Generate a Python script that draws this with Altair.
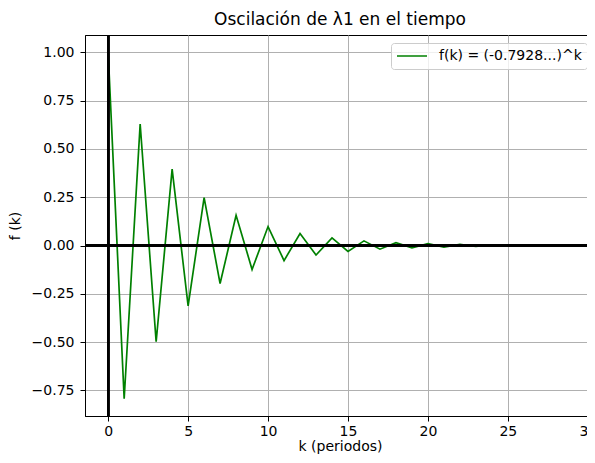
import altair as alt
import pandas as pd

k_values = [0, 1, 2, 3, 4, 5, 6, 7, 8, 9, 10, 11, 12, 13, 14, 15, 16, 17, 18, 19,
            20, 21, 22, 23, 24, 25, 26, 27, 28, 29]
f_values = [1.0, -0.793, 0.629, -0.498, 0.395, -0.313, 0.248, -0.197, 0.156, -0.124,
            0.098, -0.078, 0.062, -0.049, 0.039, -0.031, 0.024, -0.019, 0.015, -0.012,
            0.010, -0.008, 0.006, -0.005, 0.004, -0.003, 0.002, -0.002, 0.0015, -0.0012]
series_label = "f(k) = (-0.7928...)^k"
x_ticks = [0, 5, 10, 15, 20, 25, 30]
y_ticks = [-0.75, -0.5, -0.25, 0.0, 0.25, 0.5, 0.75, 1.0]

df = pd.DataFrame({"k": k_values, "f": f_values, "serie": [series_label] * len(k_values)})

FONT = "DejaVu Sans"

x_scale = alt.Scale(domain=[-1.45, 30.45], nice=False, zero=False)
y_scale = alt.Scale(domain=[-0.8825, 1.0896], nice=False, zero=False)

x_axis = alt.Axis(values=x_ticks, format="d", title="k (periodos)", grid=True)
y_axis = alt.Axis(values=y_ticks, format=".2f", title="f (k)", grid=True)

line = alt.Chart(df).mark_line(strokeWidth=1.7).encode(
    x=alt.X("k:Q", scale=x_scale, axis=x_axis),
    y=alt.Y("f:Q", scale=y_scale, axis=y_axis),
    color=alt.Color("serie:N", scale=alt.Scale(range=["green"]),
                    legend=alt.Legend(title=None)),
)

hrule = alt.Chart(df).mark_rule(color="black", strokeWidth=1.8).encode(y=alt.datum(0))
vrule = alt.Chart(df).mark_rule(color="black", strokeWidth=1.8).encode(x=alt.datum(0))

chart = alt.layer(line, hrule, vrule).properties(
    width=510,
    height=381,
    title=alt.TitleParams("Oscilación de λ1 en el tiempo", font=FONT, fontSize=17,
                          fontWeight="normal", color="black", anchor="middle",
                          offset=5),
    autosize=alt.AutoSizeParams(type="none"),
    padding={"left": 77, "top": 27, "right": -8, "bottom": 39},
).configure_view(
    stroke="black", strokeWidth=1
).configure_axis(
    labelFont=FONT, labelFontSize=14, labelColor="black",
    titleFont=FONT, titleFontSize=14, titleFontWeight="normal", titleColor="black",
    domainColor="black", domainWidth=1, tickColor="black", tickSize=5, tickWidth=1,
    gridColor="#b0b0b0", gridWidth=1, gridOpacity=1, labelFlush=False, labelOverlap=False,
).configure_axisX(
    labelPadding=3, titlePadding=1
).configure_axisY(
    labelPadding=6, titlePadding=9
).configure_legend(
    orient="top-right", offset=8, strokeColor="#cccccc",
    fillColor="rgba(255,255,255,0.8)",
    cornerRadius=3, padding=5, symbolType="stroke", symbolSize=900, clipHeight=16,
    symbolStrokeWidth=1.7, labelFont=FONT, labelFontSize=14, labelColor="black",
    labelOffset=11,
)

chart.save("out.html", embed_options={"renderer": "svg", "actions": False})
